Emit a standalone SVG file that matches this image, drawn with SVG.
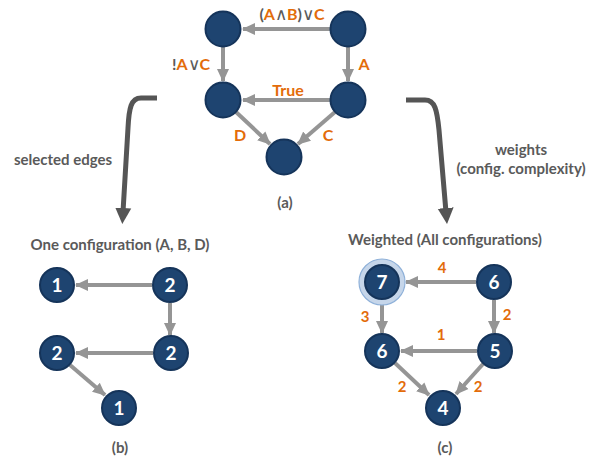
<svg xmlns="http://www.w3.org/2000/svg" width="600" height="460" viewBox="0 0 600 460">
<defs>
<marker id="ah" markerUnits="userSpaceOnUse" markerWidth="14" markerHeight="14" viewBox="0 0 14 14" refX="12" refY="7" orient="auto">
<path d="M0,1 L13,7 L0,13 Z" fill="#959595"/>
</marker>
<marker id="bh" markerUnits="userSpaceOnUse" markerWidth="18" markerHeight="18" viewBox="0 0 18 18" refX="4" refY="9" orient="auto">
<path d="M0,1 L16,9 L0,17 Z" fill="#555555"/>
</marker>
<style>
.n{fill:#1e4470;stroke:#15345a;stroke-width:2}
.e{stroke:#959595;stroke-width:4;fill:none;marker-end:url(#ah)}
.big{stroke:#555555;stroke-width:5;fill:none;marker-end:url(#bh)}
.t{font-family:Lato,"Open Sans",sans-serif;font-weight:bold}
.g{fill:#5a5a5a}
.o{fill:#e36c0a}
.s{font-weight:normal;font-size:17px}
.num{fill:#ffffff;font-size:19px;text-anchor:middle}
.lab{font-size:16px}
.cap{font-size:15px}
</style>
</defs>

<g id="connectors">
<line class="e" x1="330" y1="29" x2="243" y2="29"/>
<line class="e" x1="223" y1="47" x2="223" y2="81"/>
<line class="e" x1="348" y1="47" x2="348" y2="81"/>
<line class="e" x1="330" y1="100" x2="243" y2="100"/>
<line class="e" x1="236" y1="112" x2="270" y2="144"/>
<line class="e" x1="335" y1="112" x2="298" y2="144"/>

<line class="e" x1="152" y1="285" x2="76" y2="285"/>
<line class="e" x1="170" y1="303" x2="170" y2="335"/>
<line class="e" x1="153" y1="353" x2="76" y2="353"/>
<line class="e" x1="70" y1="365" x2="105" y2="395"/>

<line class="e" x1="476" y1="282" x2="406" y2="282"/>
<line class="e" x1="382" y1="304" x2="382" y2="333"/>
<line class="e" x1="494" y1="300" x2="494" y2="333"/>
<line class="e" x1="477" y1="351" x2="401" y2="351"/>
<line class="e" x1="395" y1="363" x2="429" y2="395"/>
<line class="e" x1="483" y1="364" x2="456" y2="394"/>

<path class="big" d="M157,98 L141,98 C131,98 129,108 128,128 L123,212"/>
<path class="big" d="M406,100 L425,100 C435,100 437,110 439,130 L446,212"/>
</g>

<g id="a-n1"><circle class="n" cx="223" cy="29" r="17.5"/></g>
<g id="a-n2"><circle class="n" cx="348" cy="29" r="17.5"/></g>
<g id="a-n3"><circle class="n" cx="223" cy="100" r="17.5"/></g>
<g id="a-n4"><circle class="n" cx="348" cy="100" r="17.5"/></g>
<g id="a-n5"><circle class="n" cx="284" cy="157" r="17.5"/></g>

<g id="a-labels" class="t lab">
<text x="292" y="20" text-anchor="middle"><tspan class="g">(</tspan><tspan class="o">A</tspan><tspan class="g s">∧</tspan><tspan class="o">B</tspan><tspan class="g">)</tspan><tspan class="g s">∨</tspan><tspan class="o">C</tspan></text>
<text x="191" y="70" text-anchor="middle"><tspan class="g">!</tspan><tspan class="o">A</tspan><tspan class="g s">∨</tspan><tspan class="o">C</tspan></text>
<text class="o" x="364" y="70" text-anchor="middle">A</text>
<text class="o" x="288" y="96" text-anchor="middle">True</text>
<text class="o" x="240" y="141" text-anchor="middle">D</text>
<text class="o" x="328" y="141" text-anchor="middle">C</text>
<text class="g cap" x="285" y="208" text-anchor="middle">(a)</text>
</g>

<text class="t g cap" x="63" y="165" text-anchor="middle">selected edges</text>
<text class="t g cap" x="521" y="155" text-anchor="middle">weights</text>
<text class="t g cap" x="521" y="174" text-anchor="middle">(config. complexity)</text>

<text class="t g cap" x="120" y="250" text-anchor="middle">One configuration (A, B, D)</text>
<g id="b-n1"><circle class="n" cx="57" cy="285" r="17"/><text class="t num" x="57" y="292">1</text></g>
<g id="b-n2"><circle class="n" cx="170" cy="285" r="17"/><text class="t num" x="170" y="292">2</text></g>
<g id="b-n3"><circle class="n" cx="57" cy="353" r="17"/><text class="t num" x="57" y="360">2</text></g>
<g id="b-n4"><circle class="n" cx="171" cy="353" r="17"/><text class="t num" x="171" y="360">2</text></g>
<g id="b-n5"><circle class="n" cx="119" cy="408" r="17"/><text class="t num" x="119" y="415">1</text></g>
<text class="t g cap" x="120" y="453" text-anchor="middle">(b)</text>

<text class="t g cap" x="445" y="245" text-anchor="middle">Weighted (All configurations)</text>
<g id="c-n1"><circle cx="382" cy="282" r="23" fill="#c6d6ea" stroke="#8fb1d9" stroke-width="1.2"/><circle class="n" cx="382" cy="282" r="17"/><text class="t num" x="382" y="289">7</text></g>
<g id="c-n2"><circle class="n" cx="494" cy="282" r="17"/><text class="t num" x="494" y="289">6</text></g>
<g id="c-n3"><circle class="n" cx="382" cy="351" r="17"/><text class="t num" x="382" y="358">6</text></g>
<g id="c-n4"><circle class="n" cx="495" cy="351" r="17"/><text class="t num" x="495" y="358">5</text></g>
<g id="c-n5"><circle class="n" cx="443" cy="408" r="17"/><text class="t num" x="443" y="415">4</text></g>
<g id="c-labels" class="t o" font-size="15">
<text x="442" y="273" text-anchor="middle">4</text>
<text x="507" y="320" text-anchor="middle">2</text>
<text x="365" y="322" text-anchor="middle">3</text>
<text x="441" y="340" text-anchor="middle">1</text>
<text x="402" y="392" text-anchor="middle">2</text>
<text x="478" y="392" text-anchor="middle">2</text>
</g>
<text class="t g cap" x="445" y="453" text-anchor="middle">(c)</text>
</svg>
